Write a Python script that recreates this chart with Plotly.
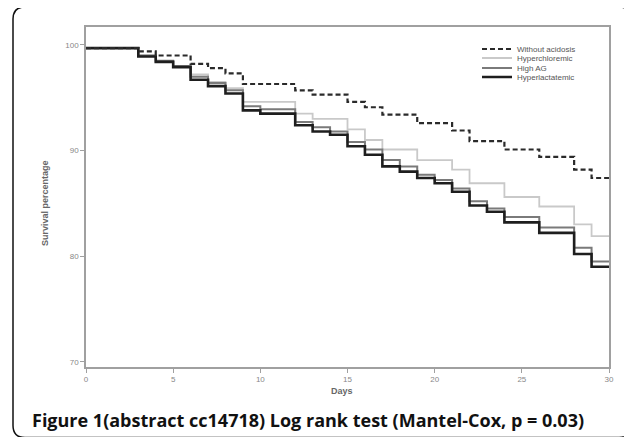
import plotly.graph_objects as go

# Kaplan-Meier steps (day of each drop, survival % after it)
without_days = [0, 3, 4, 6, 7, 8, 9, 12, 13, 15, 16, 17, 19, 21, 22, 24, 26, 28, 29, 30]
without_vals = [99.7, 99.4, 99.0, 98.2, 97.8, 97.3, 96.3, 95.7, 95.3, 94.6, 94.1, 93.4,
                92.6, 91.9, 90.9, 90.1, 89.4, 88.2, 87.4, 87.4]

chlor_days = [0, 3, 4, 5, 6, 7, 8, 9, 12, 13, 15, 16, 17, 19, 21, 22, 24, 26, 28, 29, 30]
chlor_vals = [99.7, 99.0, 98.5, 98.0, 97.2, 96.5, 95.9, 94.6, 93.5, 93.0, 92.0, 91.0,
              90.1, 89.1, 88.2, 86.9, 85.6, 84.7, 83.0, 81.9, 81.9]

highag_days = [0, 3, 4, 5, 6, 7, 8, 9, 10, 12, 13, 14, 15, 16, 17, 18, 19, 20, 21, 22,
               23, 24, 26, 28, 29, 30]
highag_vals = [99.7, 99.0, 98.5, 98.0, 97.0, 96.4, 95.7, 94.2, 93.9, 92.7, 92.2, 91.8,
               90.8, 90.1, 89.1, 88.5, 87.7, 87.2, 86.4, 85.2, 84.5, 83.7, 82.7, 80.8,
               79.5, 79.5]

lact_days = [0, 3, 4, 5, 6, 7, 8, 9, 10, 12, 13, 14, 15, 16, 17, 18, 19, 20, 21, 22,
             23, 24, 26, 28, 29, 30]
lact_vals = [99.7, 98.9, 98.4, 97.9, 96.7, 96.1, 95.4, 93.8, 93.5, 92.4, 91.8, 91.5,
             90.4, 89.6, 88.5, 88.0, 87.4, 86.9, 86.1, 84.8, 84.2, 83.2, 82.2, 80.2,
             79.0, 79.0]

x_ticks = [0, 5, 10, 15, 20, 25, 30]
y_ticks = [70, 80, 90, 100]

W, H = 632, 437
OFF = 8  # the page body adds an 8px margin, so lay things out 8px up/left
L, T = 86 - OFF, 27 - OFF
R, B = W - (609 - OFF), H - (367 - OFF)
PW, PH = W - L - R, H - T - B


def px(x):
    return (x - OFF - L) / PW


def py(y):
    return (H - B - (y - OFF)) / PH


series = [
    ("Hyperchloremic", chlor_days, chlor_vals, dict(color="#c9c9c9", width=1.8), "legend2"),
    ("High AG", highag_days, highag_vals, dict(color="#7a7a7a", width=2), "legend3"),
    ("Hyperlactatemic", lact_days, lact_vals, dict(color="#1e1e1e", width=2.6), "legend4"),
    ("Without acidosis", without_days, without_vals,
     dict(color="#2a2a2a", width=2.2, dash="5px,3px"), "legend"),
]

fig = go.Figure()
for name, xs, ys, line, leg in series:
    fig.add_trace(go.Scatter(x=xs, y=ys, mode="lines", name=name, line=line,
                             line_shape="hv", legend=leg, hoverinfo="skip"))

leg_style = dict(x=px(477), xanchor="left", yanchor="middle", bgcolor="rgba(0,0,0,0)",
                 font=dict(family="Arial", size=8, color="#555"), itemwidth=30)
axis_style = dict(showline=True, linecolor="#a0a0a0", linewidth=1.5, mirror=True,
                  ticks="outside", ticklen=4, tickcolor="#a0a0a0", tickwidth=1.2,
                  showgrid=False, zeroline=False,
                  tickfont=dict(family="Arial", size=8, color="#888"))

fig.update_layout(
    width=W, height=H,
    margin=dict(l=L, r=R, t=T, b=B),
    paper_bgcolor="white", plot_bgcolor="white",
    showlegend=True,
    legend=dict(leg_style, y=py(49)),
    legend2=dict(leg_style, y=py(58)),
    legend3=dict(leg_style, y=py(68)),
    legend4=dict(leg_style, y=py(77)),
    xaxis=dict(axis_style, range=[0, 30], tickvals=x_ticks),
    yaxis=dict(axis_style, range=[69.5, 101.7], tickvals=y_ticks),
)

fig.add_annotation(text="<b>Survival percentage</b>", textangle=-90, x=px(45), y=py(203),
                   xref="paper", yref="paper", xanchor="center", yanchor="middle",
                   showarrow=False, font=dict(family="Arial", size=9, color="#666"))
fig.add_annotation(text="<b>Days</b>", x=px(342), y=py(391), xref="paper", yref="paper",
                   xanchor="center", yanchor="middle", showarrow=False,
                   font=dict(family="Arial", size=9, color="#666"))
fig.add_annotation(text="<b>Figure 1(abstract cc14718) Log rank test (Mantel-Cox, p = 0.03)</b>",
                   x=px(30), y=py(420), xref="paper", yref="paper", xanchor="left",
                   yanchor="middle", showarrow=False,
                   font=dict(family="Open Sans", size=18, color="#111"))

# rounded frame around the whole figure
l, r, t, b = px(13), px(631), py(7), py(437.5)
rx, ry = 12 / PW, 12 / PH
path = (f"M{l},{b + ry} L{l},{t - ry} Q{l},{t} {l + rx},{t} L{r - rx},{t} "
        f"Q{r},{t} {r},{t - ry} L{r},{b + ry} Q{r},{b} {r - rx},{b} "
        f"L{l + rx},{b} Q{l},{b} {l},{b + ry} Z")
fig.add_shape(type="path", path=path, xref="paper", yref="paper",
              line=dict(color="#111", width=1.5), layer="below")

fig.write_html("out.html")
